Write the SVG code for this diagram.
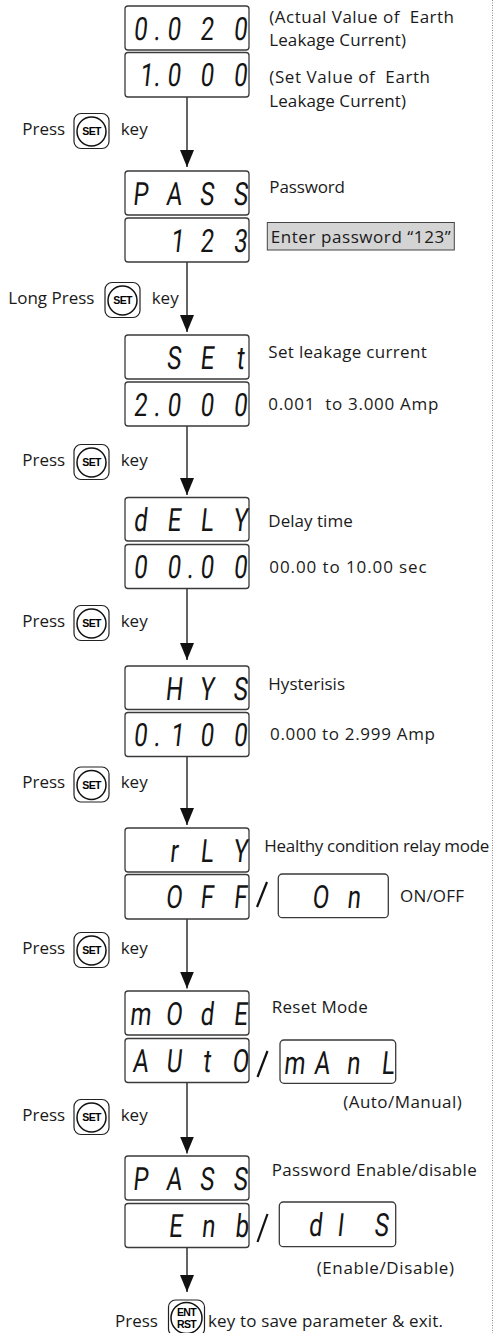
<svg xmlns="http://www.w3.org/2000/svg" width="494" height="1333" viewBox="0 0 494 1333">
<style>
.box{fill:#fff;stroke:#3a3a3a;stroke-width:1.3}
.seg{font-family:Roboto,"DejaVu Sans",sans-serif;font-weight:400;font-size:32px;fill:#151515;text-anchor:middle}
.lbl{font-family:"Open Sans","Liberation Sans",sans-serif;font-size:17px;fill:#1a1a1a}
.kr{fill:#fff;stroke:#222;stroke-width:1.2}
.kc{fill:#fff;stroke:#111;stroke-width:1.5}
.kt{font-family:"Liberation Sans",Arial,sans-serif;font-weight:bold;font-size:10.5px;fill:#000;text-anchor:middle;letter-spacing:-0.7px}
.conn line{stroke:#111;stroke-width:1.3;fill:none}
.slash{stroke:#111;stroke-width:2.2}
</style>
<defs>
<marker id="ah" viewBox="0 0 17 14" refX="17" refY="7" markerWidth="17" markerHeight="14" markerUnits="userSpaceOnUse" orient="auto">
<path d="M0,0 L17,7 L0,14 z" fill="#111"/>
</marker>
</defs>

<line x1="492.5" y1="0" x2="492.5" y2="1333" stroke="#888" stroke-width="1" stroke-dasharray="1,1.5"/>

<g id="connectors" class="conn">
<line x1="187" y1="97" x2="187" y2="167" marker-end="url(#ah)"/>
<line x1="187" y1="262" x2="187" y2="332" marker-end="url(#ah)"/>
<line x1="187" y1="426" x2="187" y2="495" marker-end="url(#ah)"/>
<line x1="187" y1="588.5" x2="187" y2="660" marker-end="url(#ah)"/>
<line x1="187" y1="756.5" x2="187" y2="825" marker-end="url(#ah)"/>
<line x1="187" y1="919" x2="187" y2="988.5" marker-end="url(#ah)"/>
<line x1="187" y1="1082.5" x2="187" y2="1153.5" marker-end="url(#ah)"/>
<line x1="187" y1="1247.5" x2="187" y2="1292" marker-end="url(#ah)"/>
</g>

<g id="n-actual">
<rect class="box" x="125" y="6" width="124" height="44" rx="3"/>
<text class="seg" transform="matrix(0.75,0,-0.105,1,4.2,0)" x="186.67 208.93 231.33 275.33 320" y="40">0.020</text>
<text class="lbl" x="269.3" y="22.7" textLength="184.7" xml:space="preserve">(Actual Value of  Earth</text>
<text class="lbl" x="269.3" y="46" textLength="136.7">Leakage Current)</text>
</g>
<g id="n-setvalue">
<rect class="box" x="125" y="52.5" width="124" height="44.5" rx="3"/>
<text class="seg" transform="matrix(0.75,0,-0.105,1,9.08,0)" x="194.67 208.93 231.33 275.33 320" y="86.5">1.000</text>
<text class="lbl" x="269.3" y="83.3" textLength="160.7" xml:space="preserve">(Set Value of  Earth</text>
<text class="lbl" x="269.3" y="106.7" textLength="136.7">Leakage Current)</text>
</g>

<g id="k1">
<text class="lbl" x="22.3" y="134.5">Press</text>
<rect class="kr" x="74" y="113.5" width="35" height="35" rx="7"/>
<circle class="kc" cx="91.5" cy="131.5" r="14.5"/>
<text class="kt" x="91.5" y="135.3">SET</text>
<text class="lbl" x="120.7" y="134.5">key</text>
</g>

<g id="n-pass">
<rect class="box" x="125" y="171" width="124" height="44" rx="3"/>
<text class="seg" transform="matrix(0.75,0,-0.105,1,21.53,0)" x="186.67 231.33 275.33 320" y="205">PASS</text>
<text class="lbl" x="269.3" y="193.3" textLength="75.7">Password</text>
</g>
<g id="n-123">
<rect class="box" x="125" y="218" width="124" height="44" rx="3"/>
<text class="seg" transform="matrix(0.75,0,-0.105,1,26.46,0)" x="236 275.33 320" y="252">123</text>
<rect x="267.3" y="222.5" width="187" height="27.5" fill="#d4d4d4" stroke="#444" stroke-width="1"/>
<text class="lbl" x="270.7" y="243" textLength="180">Enter password “123”</text>
</g>

<g id="k2">
<text class="lbl" x="8.3" y="303.5">Long Press</text>
<rect class="kr" x="105" y="282.5" width="35" height="35" rx="7"/>
<circle class="kc" cx="122.5" cy="300.5" r="14.5"/>
<text class="kt" x="122.5" y="304.3">SET</text>
<text class="lbl" x="151.7" y="303.5">key</text>
</g>

<g id="n-set">
<rect class="box" x="125" y="335" width="124" height="44" rx="3"/>
<text class="seg" transform="matrix(0.75,0,-0.105,1,38.75,0)" x="231.33 275.33 320" y="369">SEt</text>
<text class="lbl" x="268.3" y="358" textLength="158.4">Set leakage current</text>
</g>
<g id="n-2000">
<rect class="box" x="125" y="382" width="124" height="44" rx="3"/>
<text class="seg" transform="matrix(0.75,0,-0.105,1,43.68,0)" x="186.67 208.93 231.33 275.33 320" y="416">2.000</text>
<text class="lbl" x="268.3" y="410" textLength="170" xml:space="preserve">0.001  to 3.000 Amp</text>
</g>

<g id="k3">
<text class="lbl" x="22.3" y="465.5">Press</text>
<rect class="kr" x="74" y="444.5" width="35" height="35" rx="7"/>
<circle class="kc" cx="91.5" cy="462.5" r="14.5"/>
<text class="kt" x="91.5" y="466.3">SET</text>
<text class="lbl" x="120.7" y="465.5">key</text>
</g>

<g id="n-dely">
<rect class="box" x="125" y="497.5" width="124" height="43.5" rx="3"/>
<text class="seg" transform="matrix(0.75,0,-0.105,1,55.76,0)" x="186.67 231.33 275.33 320" y="531">dELY</text>
<text class="lbl" x="268.3" y="526.7" textLength="84.4">Delay time</text>
</g>
<g id="n-0000">
<rect class="box" x="125" y="544.5" width="124" height="44" rx="3"/>
<text class="seg" transform="matrix(0.75,0,-0.105,1,60.74,0)" x="186.67 231.33 253.33 275.33 320" y="578.5">00.00</text>
<text class="lbl" x="269.3" y="572.7" textLength="157.4">00.00 to 10.00 sec</text>
</g>

<g id="k4">
<text class="lbl" x="22.3" y="626.5">Press</text>
<rect class="kr" x="74" y="605.5" width="35" height="35" rx="7"/>
<circle class="kc" cx="91.5" cy="623.5" r="14.5"/>
<text class="kt" x="91.5" y="627.3">SET</text>
<text class="lbl" x="120.7" y="626.5">key</text>
</g>

<g id="n-hys">
<rect class="box" x="125" y="666" width="124" height="43.5" rx="3"/>
<text class="seg" transform="matrix(0.75,0,-0.105,1,73.5,0)" x="231.33 275.33 320" y="700">HYS</text>
<text class="lbl" x="268.3" y="690" textLength="76.7">Hysterisis</text>
</g>
<g id="n-0100">
<rect class="box" x="125" y="712.5" width="124" height="44" rx="3"/>
<text class="seg" transform="matrix(0.75,0,-0.105,1,78.38,0)" x="186.67 208.93 236 275.33 320" y="746.5">0.100</text>
<text class="lbl" x="270" y="740" textLength="165">0.000 to 2.999 Amp</text>
</g>

<g id="k5">
<text class="lbl" x="22.3" y="788">Press</text>
<rect class="kr" x="74" y="767" width="35" height="35" rx="7"/>
<circle class="kc" cx="91.5" cy="785" r="14.5"/>
<text class="kt" x="91.5" y="788.8">SET</text>
<text class="lbl" x="120.7" y="788">key</text>
</g>

<g id="n-rly">
<rect class="box" x="125" y="828" width="124" height="44" rx="3"/>
<text class="seg" transform="matrix(0.75,0,-0.105,1,90.51,0)" x="231.33 275.33 320" y="862">rLY</text>
<text class="lbl" x="264.3" y="851.7" textLength="225">Healthy condition relay mode</text>
</g>
<g id="n-off">
<rect class="box" x="125" y="874.5" width="124" height="44.5" rx="3"/>
<text class="seg" transform="matrix(0.75,0,-0.105,1,95.39,0)" x="231.33 275.33 320" y="908.5">OFF</text>
<line class="slash" x1="257" y1="907" x2="267" y2="882"/>
</g>
<g id="n-on">
<rect class="box" x="278.3" y="874" width="110" height="43.7" rx="4"/>
<text class="seg" transform="matrix(0.75,0,-0.105,1,95.34,0)" x="426.67 471.33" y="908">On</text>
<text class="lbl" x="400" y="901.7" textLength="64">ON/OFF</text>
</g>

<g id="k6">
<text class="lbl" x="22.3" y="953.5">Press</text>
<rect class="kr" x="74" y="932.5" width="35" height="35" rx="7"/>
<circle class="kc" cx="91.5" cy="950.5" r="14.5"/>
<text class="kt" x="91.5" y="954.3">SET</text>
<text class="lbl" x="120.7" y="953.5">key</text>
</g>

<g id="n-mode">
<rect class="box" x="125" y="991" width="124" height="44" rx="3"/>
<text class="seg" transform="matrix(0.75,0,-0.105,1,107.63,0)" x="186.67 231.33 275.33 320" y="1025">mOdE</text>
<text class="lbl" x="271.7" y="1013.3" textLength="96">Reset Mode</text>
</g>
<g id="n-auto">
<rect class="box" x="125" y="1038.5" width="124" height="44" rx="3"/>
<text class="seg" transform="matrix(0.75,0,-0.105,1,112.61,0)" x="186.67 231.33 275.33 320" y="1072.5">AUtO</text>
<line class="slash" x1="257.5" y1="1077" x2="267.5" y2="1051"/>
</g>
<g id="n-manl">
<rect class="box" x="280" y="1040" width="115.7" height="43.3" rx="4"/>
<text class="seg" transform="matrix(0.75,0,-0.105,1,112.77,0)" x="392 428.67 470.67 516.67" y="1074">mAnL</text>
<text class="lbl" x="343.3" y="1108.3" textLength="118.4">(Auto/Manual)</text>
</g>

<g id="k7">
<text class="lbl" x="22.3" y="1120.5">Press</text>
<rect class="kr" x="74" y="1099.5" width="35" height="35" rx="7"/>
<circle class="kc" cx="91.5" cy="1117.5" r="14.5"/>
<text class="kt" x="91.5" y="1121.3">SET</text>
<text class="lbl" x="120.7" y="1120.5">key</text>
</g>

<g id="n-pass2">
<rect class="box" x="125" y="1156" width="124" height="44" rx="3"/>
<text class="seg" transform="matrix(0.75,0,-0.105,1,124.95,0)" x="186.67 231.33 275.33 320" y="1190">PASS</text>
<text class="lbl" x="271.7" y="1176" textLength="205">Password Enable/disable</text>
</g>
<g id="n-enb">
<rect class="box" x="125" y="1203.5" width="124" height="44" rx="3"/>
<text class="seg" transform="matrix(0.75,0,-0.105,1,129.94,0)" x="233.33 277.33 322" y="1237.5">Enb</text>
<line class="slash" x1="257.5" y1="1242" x2="267.5" y2="1214"/>
</g>
<g id="n-dis">
<rect class="box" x="279.3" y="1202" width="116.4" height="44.7" rx="4"/>
<text class="seg" transform="matrix(0.75,0,-0.105,1,129.78,0)" x="420 453.33 508" y="1236">dIS</text>
<text class="lbl" x="316.7" y="1274" textLength="137.3">(Enable/Disable)</text>
</g>

<g id="k8">
<text class="lbl" x="115" y="1326.7">Press</text>
<rect class="kr" x="168.5" y="1300" width="36" height="36" rx="7"/>
<circle class="kc" cx="186.5" cy="1318" r="15.5"/>
<text class="kt" x="186.5" y="1316">ENT</text>
<text class="kt" x="186.5" y="1327.5">RST</text>
<text class="lbl" x="208" y="1326.7" textLength="235">key to save parameter &amp; exit.</text>
</g>
</svg>
